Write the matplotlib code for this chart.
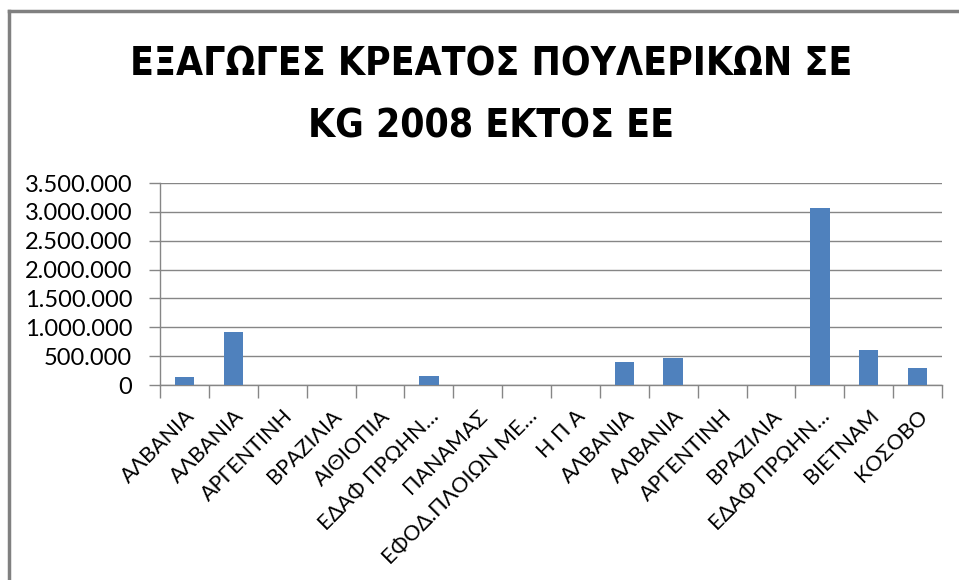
import matplotlib
matplotlib.use("Agg")
import matplotlib.pyplot as plt
from matplotlib.lines import Line2D
from matplotlib.ticker import FuncFormatter, FixedLocator
from matplotlib.transforms import ScaledTranslation
import numpy as np

categories = ["ΑΛΒΑΝΙΑ", "ΑΛΒΑΝΙΑ", "ΑΡΓΕΝΤΙΝΗ", "ΒΡΑΖΙΛΙΑ", "ΑΙΘΙΟΠΙΑ",
              "ΕΔΑΦ ΠΡΩΗΝ…", "ΠΑΝΑΜΑΣ", "ΕΦΟΔ.ΠΛΟΙΩΝ ΜΕ…", "Η Π Α",
              "ΑΛΒΑΝΙΑ", "ΑΛΒΑΝΙΑ", "ΑΡΓΕΝΤΙΝΗ", "ΒΡΑΖΙΛΙΑ", "ΕΔΑΦ ΠΡΩΗΝ…",
              "ΒΙΕΤΝΑΜ", "ΚΟΣΟΒΟ"]
values = [135000, 910000, 0, 0, 0, 155000, 0, 0, 0,
          402000, 466000, 0, 0, 3060000, 599000, 288000]
yticks = [0, 500000, 1000000, 1500000, 2000000, 2500000, 3000000, 3500000]
title = "ΕΞΑΓΩΓΕΣ ΚΡΕΑΤΟΣ ΠΟΥΛΕΡΙΚΩΝ ΣΕ\nKG 2008 ΕΚΤΟΣ ΕΕ"

plt.rcParams['font.family'] = ['Lato', 'DejaVu Sans']

fig = plt.figure(figsize=(9.59, 5.80), dpi=100)
ax = fig.add_axes([160/959, 1-385/580, (942-160)/959, (385-183)/580])

x = np.arange(len(categories))
ax.bar(x, values, width=0.4, color='#4F81BD', zorder=3)

ax.set_xlim(-0.5, len(categories)-0.5)
ax.set_ylim(0, 3500000)
ax.set_yticks(yticks)
ax.yaxis.set_major_formatter(FuncFormatter(lambda v, p: f"{int(v):,}".replace(",", ".")))
ax.grid(axis='y', color='#868686', linewidth=1.0, zorder=0)

ax.set_xticks(x)
ax.set_xticklabels(categories, rotation=45, ha='right', va='top',
                   rotation_mode='anchor', fontsize=15.5, color='#000000')
off = ScaledTranslation(8/100, 0, fig.dpi_scale_trans)
for lab in ax.get_xticklabels():
    lab.set_transform(lab.get_transform() + off)
ax.tick_params(axis='x', length=0, pad=15)
ax.xaxis.set_minor_locator(FixedLocator(np.arange(-0.5, len(categories), 1.0)))
ax.tick_params(axis='x', which='minor', length=9, color='#868686', width=1)
ax.tick_params(axis='y', length=8, color='#868686', width=1, labelsize=17, pad=12)

for s in ['top', 'right']:
    ax.spines[s].set_visible(False)
for s in ['left', 'bottom']:
    ax.spines[s].set_color('#868686')
    ax.spines[s].set_linewidth(1)

fig.text(491/959, 1-96/580, title, ha='center', va='center',
         fontsize=28, fontweight='bold', fontstretch='condensed',
         family=['DejaVu Sans'], linespacing=1.8)

fig.add_artist(Line2D([9/959, 9/959], [0, 1-11/580], color='#808080', linewidth=2.5,
                      transform=fig.transFigure))
fig.add_artist(Line2D([9/959, 1], [1-11/580, 1-11/580], color='#808080', linewidth=2.5,
                      transform=fig.transFigure))

fig.savefig("out.png", dpi=100)
